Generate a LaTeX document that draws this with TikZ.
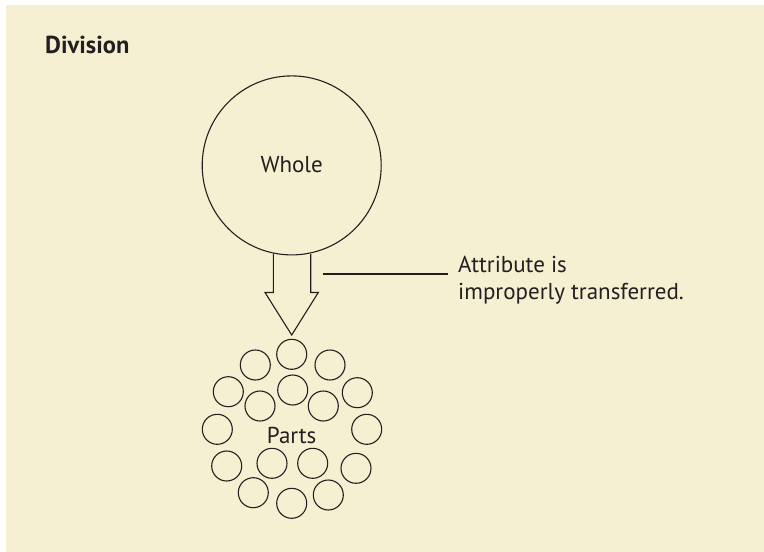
\documentclass[tikz,border=0pt]{standalone}
\usepackage{fontspec}
\setmainfont{PT Sans}
\definecolor{bg}{HTML}{F6F0D2}
\definecolor{ink}{HTML}{231F20}
\begin{document}
\begin{tikzpicture}[x=1pt,y=-1pt,
  ink/.style={draw=ink,line width=1.1pt},
  part/.style={circle,ink,minimum size=30pt,inner sep=0pt},
  lbl/.style={text=ink,font=\fontsize{23}{27}\selectfont,inner sep=0pt}]
\useasboundingbox (0,0) rectangle (764,552);
\fill[bg] (6,5) rectangle (764,552);
\node[text=ink,font=\bfseries\fontsize{24.5}{28}\selectfont,anchor=base west,inner sep=0pt] (title) at (45,53.3) {Division};
\node[circle,ink,minimum size=179pt,inner sep=0pt] (whole) at (291.7,165.4) {};
\node[lbl] (wholetxt) at (291.7,164.3) {Whole};
% arrow
\coordinate (tip) at (291.7,335);
\draw[ink,line join=miter] (273.3,253.5) -- (273.3,292.5) -- (265,292.5) -- (tip) -- (318.3,292.5) -- (310.7,292.5) -- (310.7,254);
% parts
\foreach \n/\x/\y in {1/291.7/354.3, 2/255.3/365, 3/330/365, 4/228.3/391.7, 5/292.7/390, 6/357.3/392.7,
  7/260/406, 8/323.3/406, 9/217.3/429.3, 10/366.7/429.3, 11/226.7/466, 12/272/463.3, 13/312.7/463.3,
  14/356/468.3, 15/253.3/492.7, 16/291.7/503.3, 17/328.3/495}
  \node[part] (p\n) at (\x,\y) {};
\node[lbl] (parts) at (291.7,435) {Parts};
% label
\node[text=ink,font=\fontsize{23}{27}\selectfont,align=left,anchor=base west,inner sep=0pt] (attr) at (458,299) {Attribute is\\improperly transferred.};
\coordinate (ls) at (323.3,274);
\coordinate (le) at (448.3,274);
\draw[ink] (ls) -- (le);
\end{tikzpicture}
\end{document}
